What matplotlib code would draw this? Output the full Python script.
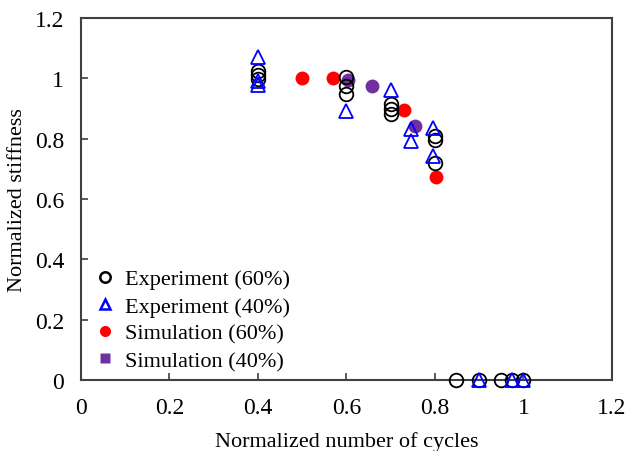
import numpy as np
import matplotlib
matplotlib.use("Agg")
import matplotlib.pyplot as plt
from matplotlib.lines import Line2D
from matplotlib.ticker import FuncFormatter

plt.rcParams['font.family'] = ['Liberation Serif', 'DejaVu Serif']

# Experiment (60%)
exp60_x = [0.4, 0.4, 0.4, 0.6, 0.6, 0.6, 0.7, 0.7, 0.7, 0.8, 0.8, 0.8,
           0.848, 0.9, 0.95, 0.975, 1.0]
exp60_y = [1.025, 1.01, 0.997, 1.004, 0.976, 0.948, 0.915, 0.898, 0.882,
           0.81, 0.797, 0.721, 0, 0, 0, 0, 0]
# Experiment (40%)
exp40_x = [0.4, 0.4, 0.4, 0.6, 0.7, 0.747, 0.747, 0.796, 0.796, 0.9, 0.975, 1.0]
exp40_y = [1.07, 0.99, 0.978, 0.893, 0.96, 0.832, 0.793, 0.837, 0.742, 0, 0, 0]
# Simulation (60%)
sim60_x = [0.5, 0.569, 0.731, 0.802]
sim60_y = [1.0, 1.0, 0.895, 0.672]
# Simulation (40%)
sim40_x = [0.604, 0.658, 0.755]
sim40_y = [0.994, 0.976, 0.843]

purple = '#7030A0'

fig = plt.figure(figsize=(6.27, 4.52), dpi=100)
ax = fig.add_axes([0.129, 0.157, 0.847, 0.801])

ax.plot(exp60_x, exp60_y, 'o', ms=9.8, mfc='none', mec='black', mew=1.3, clip_on=False, zorder=3)
ax.plot(exp40_x, exp40_y, '^', ms=9.8, mfc='none', mec='blue', mew=1.3, clip_on=False, zorder=3)
ax.plot(sim60_x, sim60_y, 'o', ms=10, color='red', mec='none', zorder=2)
ax.plot(sim40_x, sim40_y, 'o', ms=10, color=purple, mec='none', zorder=2)

ax.set_xlim(0, 1.2)
ax.set_ylim(0, 1.2)
ax.set_xticks(np.arange(0, 1.21, 0.2))
ax.set_yticks(np.arange(0, 1.21, 0.2))
fmt = FuncFormatter(lambda v, p: '%g' % round(v, 2))
ax.xaxis.set_major_formatter(fmt)
ax.yaxis.set_major_formatter(fmt)
ax.tick_params(direction='in', length=5, width=1.2, labelsize=17, color='#404040', pad=12)
for s in ax.spines.values():
    s.set_color('#404040')
    s.set_linewidth(1.5)

ax.set_xlabel('Normalized number of cycles', fontsize=16, labelpad=10)
ax.set_ylabel('Normalized stiffness', fontsize=16, labelpad=6)

handles = [
    Line2D([], [], ls='none', marker='o', ms=7.5, mfc='none', mec='black', mew=1.8),
    Line2D([], [], ls='none', marker='^', ms=7.5, mfc='none', mec='blue', mew=1.8),
    Line2D([], [], ls='none', marker='o', ms=8, color='red', mec='none'),
    Line2D([], [], ls='none', marker='s', ms=7.5, color=purple, mec='none'),
]
labels = ['Experiment (60%)', 'Experiment (40%)', 'Simulation (60%)', 'Simulation (40%)']
ax.legend(handles, labels, loc='lower left', bbox_to_anchor=(0.011, 0.0), frameon=False,
          fontsize=16, handlelength=0.8, handletextpad=0.5, labelspacing=0.3,
          borderaxespad=0.0)

fig.savefig('out.png', dpi=100)
